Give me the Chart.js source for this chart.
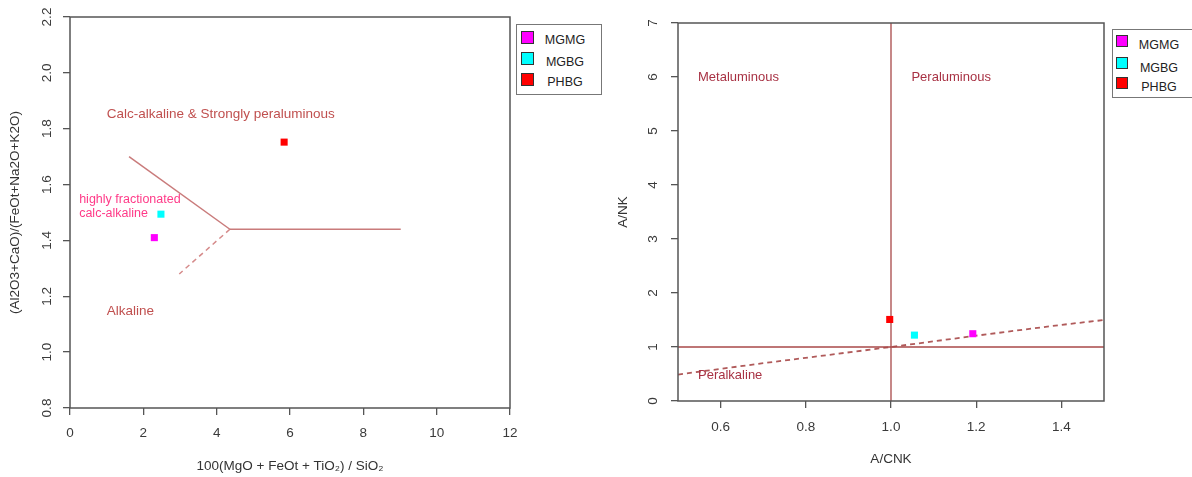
<!DOCTYPE html>
<html lang="en">
<head>
<meta charset="UTF-8">
<title>Granite classification diagrams</title>
<script src="https://cdn.jsdelivr.net/npm/chart.js"></script>
<style>
    body { margin: 0; background: #fff; font-family: "Liberation Sans", Arial, sans-serif; }
    .wrap { position: relative; width: 1192px; height: 477px; overflow: hidden; }
    .panel { position: absolute; top: 0; height: 477px; }
    .legend { position: absolute; border: 1px solid #777; background: #fff; box-sizing: border-box; }
    .legend .sw { position: absolute; border: 1px solid #333; }
    .legend .lab { position: absolute; font-size: 12.5px; color: #222; line-height: 14px; text-align: center; }
</style>
</head>
<body>
<div class="wrap">
    <div class="panel" style="left:0;width:600px"><canvas id="leftChart" width="600" height="477"></canvas></div>
    <div class="panel" style="left:600px;width:592px"><canvas id="rightChart" width="592" height="477"></canvas></div>
    <div class="legend" id="legendL" style="left:516px;top:24px;width:86px;height:71px"></div>
    <div class="legend" id="legendR" style="left:1112px;top:29px;width:82px;height:69px"></div>
</div>

<script>
    // groups
    const groups = ['MGMG', 'MGBG', 'PHBG'];
    const groupColors = ['#ff00ff', '#00ffff', '#ff0000'];

    // left diagram: 100(MgO+FeOt+TiO2)/SiO2 vs (Al2O3+CaO)/(FeOt+Na2O+K2O)
    const leftX = [2.30, 2.48, 5.84];
    const leftY = [1.41, 1.494, 1.752];
    const leftXTicks = ['0', '2', '4', '6', '8', '10', '12'];
    const leftYTicks = ['0.8', '1.0', '1.2', '1.4', '1.6', '1.8', '2.0', '2.2'];
    const leftSolidA = [[1.61, 1.70], [4.36, 1.44]];
    const leftSolidB = [[4.36, 1.44], [9.02, 1.44]];
    const leftDashed = [[4.36, 1.44], [2.98, 1.28]];
    const leftLabels = [
        ['Calc-alkaline & Strongly peraluminous', 1.0, 1.85, '#c0504f', 13.5],
        ['highly fractionated', 0.25, 1.548, '#ff3a88', 12.5],
        ['calc-alkaline', 0.25, 1.498, '#ff3a88', 12.5],
        ['Alkaline', 1.0, 1.146, '#c0504f', 13.5]
    ];

    // right diagram: A/CNK vs A/NK
    const rightX = [1.192, 1.055, 0.997];
    const rightY = [1.246, 1.22, 1.51];
    const rightXTicks = ['0.6', '0.8', '1.0', '1.2', '1.4'];
    const rightYTicks = ['0', '1', '2', '3', '4', '5', '6', '7'];
    const rightVertical = [[1.0, 0], [1.0, 7]];
    const rightHorizontal = [[0.5, 1.0], [1.5, 1.0]];
    const rightDashed = [[0.5, 0.49], [0.7, 0.7], [1.0, 1.0], [1.2, 1.21], [1.4, 1.41], [1.5, 1.5]];
    const rightLabels = [
        ['Metaluminous', 0.547, 6.0, '#a83244', 13],
        ['Peraluminous', 1.048, 6.0, '#a83244', 13],
        ['Peralkaline', 0.547, 0.48, '#a83244', 13]
    ];

    const FONT = '"Liberation Sans", Arial, sans-serif';
    const AXIS = '#555';

    function toPts(arr) { return arr.map(p => ({ x: p[0], y: p[1] })); }

    function lineSet(arr, color, width, dash) {
        return { data: toPts(arr), showLine: true, pointRadius: 0, borderColor: color,
                 borderWidth: width, borderDash: dash || [], fill: false, order: 2 };
    }

    function pointSets(xs, ys) {
        return groups.map((g, i) => ({
            label: g, data: [{ x: xs[i], y: ys[i] }], pointStyle: 'rect', pointRadius: 5,
            backgroundColor: groupColors[i], borderWidth: 0, order: 1
        }));
    }

    const boxAndText = {
        id: 'boxAndText',
        afterDatasetsDraw(chart, args, opts) {
            const ctx = chart.ctx, a = chart.chartArea;
            ctx.save();
            ctx.strokeStyle = AXIS;
            ctx.lineWidth = 1.5;
            ctx.strokeRect(a.left, a.top, a.right - a.left, a.bottom - a.top);
            ctx.textBaseline = 'middle';
            ctx.textAlign = 'left';
            opts.labels.forEach(l => {
                ctx.font = l[4] + 'px ' + FONT;
                ctx.fillStyle = l[3];
                ctx.fillText(l[0], chart.scales.x.getPixelForValue(l[1]), chart.scales.y.getPixelForValue(l[2]));
            });
            ctx.restore();
        }
    };

    function makeChart(id, sets, cfg) {
        return new Chart(document.getElementById(id), {
            type: 'scatter',
            data: { datasets: sets },
            plugins: [boxAndText],
            options: {
                responsive: false,
                animation: false,
                layout: { padding: cfg.padding },
                plugins: { legend: { display: false }, tooltip: { enabled: false },
                           boxAndText: { labels: cfg.labels } },
                scales: {
                    x: {
                        type: 'linear', min: cfg.xMin, max: cfg.xMax,
                        afterBuildTicks: s => { s.ticks = cfg.xTicks.map(t => ({ value: parseFloat(t) })); },
                        afterFit: s => { s.height = cfg.xHeight; },
                        border: { display: false },
                        grid: { drawOnChartArea: false, drawTicks: true, tickLength: 7, color: AXIS, lineWidth: 1.3 },
                        ticks: { padding: cfg.xPad, color: '#3a3a3a', font: { family: FONT, size: 13.5 },
                                 callback: (v) => cfg.xTicks.find(t => Math.abs(parseFloat(t) - v) < 1e-9) },
                        title: { display: true, text: cfg.xTitle, color: '#333', font: { family: FONT, size: 13.5 },
                                 padding: { top: 0, bottom: cfg.xTitlePad } }
                    },
                    y: {
                        type: 'linear', min: cfg.yMin, max: cfg.yMax,
                        afterBuildTicks: s => { s.ticks = cfg.yTicks.map(t => ({ value: parseFloat(t) })); },
                        afterFit: s => { s.width = cfg.yWidth; },
                        border: { display: false },
                        grid: { drawOnChartArea: false, drawTicks: true, tickLength: 7, color: AXIS, lineWidth: 1.3 },
                        ticks: { padding: cfg.yPad, crossAlign: 'center', minRotation: 90, maxRotation: 90,
                                 color: '#3a3a3a', font: { family: FONT, size: 13.5 },
                                 callback: (v) => cfg.yTicks.find(t => Math.abs(parseFloat(t) - v) < 1e-9) },
                        title: { display: true, text: cfg.yTitle, color: '#333', font: { family: FONT, size: 13.5 },
                                 padding: { top: cfg.yTitlePad, bottom: 0 } }
                    }
                }
            }
        });
    }

    makeChart('leftChart', [
        lineSet(leftSolidA, '#c97b7b', 1.5),
        lineSet(leftSolidB, '#c97b7b', 1.5),
        lineSet(leftDashed, '#d58a8a', 1.5, [5, 4]),
        ...pointSets(leftX, leftY)
    ], {
        padding: { left: 0, right: 90, top: 17, bottom: 0 },
        xMin: 0, xMax: 12, yMin: 0.8, yMax: 2.2,
        xTicks: leftXTicks, yTicks: leftYTicks,
        xHeight: 69, yWidth: 70, xPad: 10, yPad: 6,
        xTitle: '100(MgO + FeOt + TiO\u2082) / SiO\u2082', xTitlePad: 3,
        yTitle: '(Al2O3+CaO)/(FeOt+Na2O+K2O)', yTitlePad: 7,
        labels: leftLabels
    });

    makeChart('rightChart', [
        lineSet(rightVertical, '#a84848', 1.3),
        lineSet(rightHorizontal, '#a84848', 1.3),
        lineSet(rightDashed, '#b05a5a', 1.8, [5, 4]),
        ...pointSets(rightX, rightY)
    ], {
        padding: { left: 0, right: 88, top: 23, bottom: 0 },
        xMin: 0.5, xMax: 1.5, yMin: 0, yMax: 7,
        xTicks: rightXTicks, yTicks: rightYTicks,
        xHeight: 76, yWidth: 78, xPad: 11, yPad: 14,
        xTitle: 'A/CNK', xTitlePad: 10,
        yTitle: 'A/NK', yTitlePad: 15,
        labels: rightLabels
    });

    // legends
    function buildLegend(id, swLeft, swTops, labCenter, labTops, swSize) {
        const box = document.getElementById(id);
        groups.forEach((g, i) => {
            const sw = document.createElement('div');
            sw.className = 'sw';
            sw.style.left = swLeft + 'px';
            sw.style.top = swTops[i] + 'px';
            sw.style.width = swSize + 'px';
            sw.style.height = swSize + 'px';
            sw.style.background = groupColors[i];
            box.appendChild(sw);
            const lab = document.createElement('div');
            lab.className = 'lab';
            lab.textContent = g;
            lab.style.left = (labCenter - 30) + 'px';
            lab.style.width = '60px';
            lab.style.top = labTops[i] + 'px';
            box.appendChild(lab);
        });
    }
    buildLegend('legendL', 4, [6, 27, 48], 48, [8, 30, 50], 11);
    buildLegend('legendR', 3, [5, 27, 47], 46, [8, 31, 50], 10);
</script>
</body>
</html>
